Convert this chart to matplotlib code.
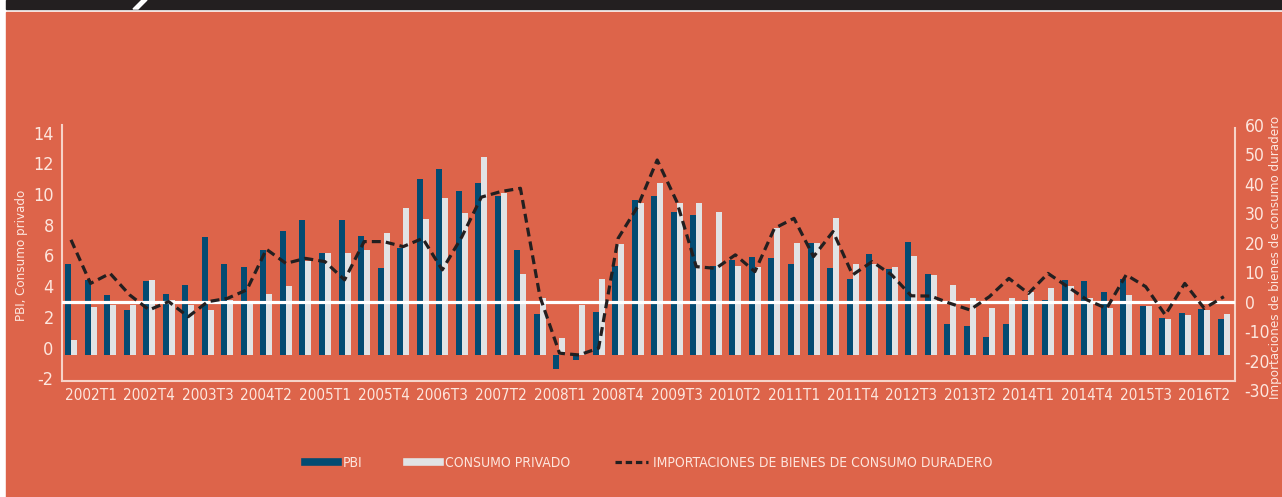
import numpy as np
import matplotlib
matplotlib.use('Agg')
import matplotlib.pyplot as plt
from matplotlib.lines import Line2D
from matplotlib.patches import Rectangle, Polygon

# quarterly series, 2001T4 .. 2016T3 (left axis units for the bars)
pbi = [5.45, 4.40, 3.43, 2.45, 4.34, 3.49, 4.08, 7.20, 5.45, 5.25,
       6.36, 7.59, 8.31, 6.16, 8.31, 7.27, 5.19, 6.49, 10.98, 11.63,
       10.20, 10.72, 9.88, 6.36, 2.19, -1.39, -0.81, 2.32, 5.32, 9.62,
       9.88, 8.83, 8.64, 5.32, 5.71, 5.90, 5.84, 5.45, 6.81, 5.19,
       4.47, 6.10, 5.12, 6.88, 4.79, 1.54, 1.41, 0.69, 1.54, 3.10,
       3.10, 4.40, 4.34, 3.62, 4.47, 2.71, 1.93, 2.25, 2.51, 1.86]
consumo = [0.49, 2.65, 2.78, 2.78, 4.40, 3.10, 2.78, 2.45, 3.10, 2.84,
           3.49, 4.01, 5.64, 6.16, 6.16, 6.36, 7.47, 9.09, 8.38, 9.75,
           8.77, 12.42, 10.07, 4.79, 3.23, 0.63, 2.78, 4.47, 6.75, 9.42,
           10.72, 9.42, 9.42, 8.83, 5.32, 5.25, 7.79, 6.81, 6.81, 8.44,
           5.45, 5.45, 5.25, 5.97, 4.73, 4.08, 3.23, 2.58, 3.23, 3.62,
           3.88, 4.01, 3.23, 2.58, 3.43, 2.71, 1.86, 2.12, 2.45, 2.19]
# right axis
importaciones = [21.0, 6.2, 9.6, 2.3, -2.8, 0.0, -5.1, 0.0, 1.1, 4.0,
                 17.8, 13.0, 14.7, 13.6, 7.4, 20.4, 20.4, 18.7, 21.5, 10.8,
                 22.0, 35.5, 37.4, 38.5, 1.7, -17.5, -18.1, -15.8, 21.5, 32.3,
                 48.1, 34.0, 11.9, 11.3, 15.9, 10.2, 24.9, 28.3, 15.3, 23.8,
                 9.1, 13.6, 9.1, 2.0, 1.9, -0.6, -2.8, 1.7, 7.9, 2.8,
                 9.6, 5.1, 0.6, -2.3, 9.1, 5.1, -4.5, 6.2, -2.3, 1.7]
tick_labels = ['2002T1', '2002T4', '2003T3', '2004T2', '2005T1', '2005T4',
               '2006T3', '2007T2', '2008T1', '2008T4', '2009T3', '2010T2',
               '2011T1', '2011T4', '2012T3', '2013T2', '2014T1', '2014T4',
               '2015T3', '2016T2']

#colours
bg = '#dd644a'
dark = '#034b72'
light = '#e1e3e5'
ink = '#231f20'
txt = '#fde6de'
axc = '#f6d3c8'

plt.rcParams['font.family'] = ['DejaVu Sans']
plt.rcParams['font.stretch'] = 'condensed'
plt.rcParams['axes.unicode_minus'] = False

W, H = 1282, 497
fig = plt.figure(figsize=(W / 100, H / 100), dpi=100, facecolor='white')

# background panel and top band
fig.patches.append(Rectangle((6 / W, 0), 1 - 6 / W, 1 - 12 / H, transform=fig.transFigure,
                             color=bg, zorder=-2))
fig.patches.append(Rectangle((6 / W, 1 - 9 / H), 1 - 6 / W, 9 / H, transform=fig.transFigure,
                             color=ink, zorder=-2))
fig.patches.append(Polygon([(133 / W, 1 - 9 / H), (138 / W, 1 - 9 / H), (147 / W, 1), (142 / W, 1)],
                           closed=True, transform=fig.transFigure, color='white', zorder=-1))

ax = fig.add_axes([62 / W, (H - 390) / H, (1235 - 62) / W, 265 / H])
ax.patch.set_alpha(0)
ax2 = ax.twinx()

x = np.arange(len(pbi))
base = -0.5
bw = 0.307
ax.bar(x - bw / 2, np.array(pbi) - base, bw, bottom=base, color=dark, zorder=2)
ax.bar(x + bw / 2, np.array(consumo) - base, bw, bottom=base, color=light, zorder=2)

ax2.axhline(0, color='white', lw=2.3, zorder=3)
ax2.plot(x, importaciones, color=ink, lw=2.3, ls=(0, (2.8, 1.6)), zorder=4)

ax.set_xlim(-0.46, 59.57)
ax.set_ylim(-2.762, 14.5)
ax2.set_ylim(-30, 60)

ax.set_yticks(range(-2, 15, 2))
ax2.set_yticks(range(-30, 61, 10))
ax.set_xticks(x[1::3])
ax.set_xticklabels(tick_labels)

for a in (ax, ax2):
    for s in a.spines.values():
        s.set_visible(False)
ax.spines['left'].set_visible(True)
ax.spines['left'].set_bounds(-2.176, 14.5)
ax.spines['bottom'].set_visible(True)
ax.spines['bottom'].set_position(('data', -2.176))
ax2.spines['right'].set_visible(True)
ax2.spines['right'].set_bounds(-26.9, 59.0)
for s in (ax.spines['left'], ax.spines['bottom'], ax2.spines['right']):
    s.set_color(axc)
    s.set_linewidth(1.5)

ax.tick_params(axis='y', length=0, pad=6, labelsize=13, labelcolor=txt)
ax.tick_params(axis='x', length=0, pad=5, labelsize=11, labelcolor=txt)
ax2.tick_params(axis='y', length=0, pad=7, labelsize=12.5, labelcolor=txt)

fig.text(22 / W, 1 - 255 / H, 'PBI, Consumo privado', rotation=90, ha='center', va='center',
         fontsize=9.5, color=txt)
fig.text(1276 / W, 1 - 257 / H, 'Importaciones de bienes de consumo duradero', rotation=90,
         ha='center', va='center', fontsize=9.5, color=txt)

handles = [Line2D([], [], color=dark, lw=5.5),
           Line2D([], [], color=light, lw=5.5),
           Line2D([], [], color=ink, lw=2.3, ls=(0, (2.0, 1.2)))]
labels = ['PBI', 'CONSUMO PRIVADO', 'IMPORTACIONES DE BIENES DE CONSUMO DURADERO']
leg = fig.legend(handles, labels, loc='center', bbox_to_anchor=(648.5 / W, 1 - 463 / H), ncol=3,
                 frameon=False, fontsize=10, handlelength=2.4, handletextpad=0.35,
                 columnspacing=3.2)
for t in leg.get_texts():
    t.set_color(txt)

fig.savefig('out.png', dpi=100, facecolor=fig.get_facecolor())
